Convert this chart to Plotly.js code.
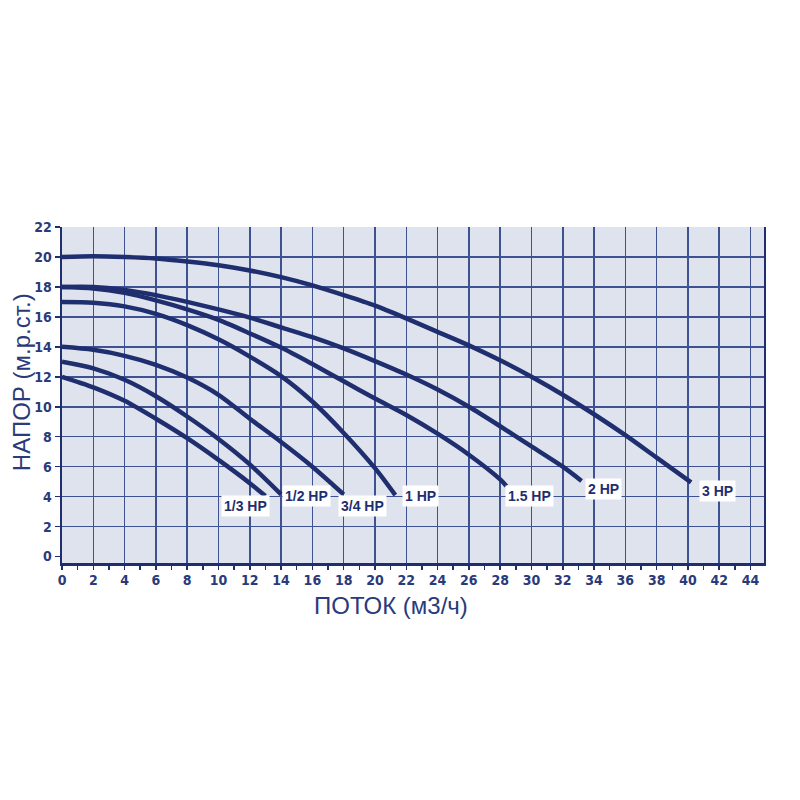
<!DOCTYPE html>
<html>
<head>
<meta charset="utf-8">
<script src="https://cdn.plot.ly/plotly-3.0.1.min.js"></script>
<style>html,body{margin:0;padding:0;background:#fff;}#chart{width:800px;height:800px;}</style>
</head>
<body>
<div id="chart"></div>
<script>
// Flow (м3/ч) and head (м) readings for each pump curve
const q13 = [0, 2, 4, 6, 8, 10, 12, 13];
const h13 = [12, 11.3, 10.4, 9.2, 7.9, 6.45, 4.9, 4.05];

const q12 = [0, 2, 4, 6, 8, 10, 12, 14];
const h12 = [13, 12.56, 11.8, 10.7, 9.35, 7.85, 6.15, 4.15];

const q34 = [0, 2, 4, 6, 8, 10, 12, 14, 16, 18];
const h34 = [14, 13.8, 13.4, 12.8, 11.95, 10.8, 9.2, 7.65, 6.0, 4.15];

const q1 = [0, 2, 4, 6, 8, 10, 12, 14, 16, 18, 20, 21.3];
const h1 = [17, 16.95, 16.7, 16.2, 15.45, 14.5, 13.35, 12.05, 10.35, 8.25, 5.9, 4.1];

const q15 = [0, 2, 4, 6, 8, 10, 12, 14, 16, 18, 20, 22, 24, 26, 28, 28.4];
const h15 = [18, 17.9, 17.6, 17.1, 16.5, 15.8, 14.9, 13.95, 12.85, 11.7, 10.55, 9.45, 8.2, 6.8, 5.15, 4.7];

const q2 = [0, 2, 4, 6, 8, 10, 12, 14, 16, 18, 20, 22, 24, 26, 28, 30, 32, 33.2];
const h2 = [18, 18.0, 17.8, 17.45, 17.0, 16.5, 15.95, 15.3, 14.65, 13.9, 13.05, 12.15, 11.15, 10.0, 8.7, 7.35, 6.0, 5.05];

const q3 = [0, 2, 4, 6, 8, 10, 12, 14, 16, 18, 20, 22, 24, 26, 28, 30, 32, 34, 36, 38, 40.2];
const h3 = [20, 20.05, 20.0, 19.9, 19.7, 19.45, 19.1, 18.65, 18.1, 17.45, 16.75, 15.9, 15.0, 14.1, 13.1, 12.0, 10.8, 9.5, 8.1, 6.6, 4.95];

const seriesNames = ['1/3 HP', '1/2 HP', '3/4 HP', '1 HP', '1.5 HP', '2 HP', '3 HP'];
const seriesQ = [q13, q12, q34, q1, q15, q2, q3];
const seriesH = [h13, h12, h34, h1, h15, h2, h3];

const xTickVals = [0, 2, 4, 6, 8, 10, 12, 14, 16, 18, 20, 22, 24, 26, 28, 30, 32, 34, 36, 38, 40, 42, 44];
const yTickVals = [0, 2, 4, 6, 8, 10, 12, 14, 16, 18, 20, 22];
const yGridVals = [2, 4, 6, 8, 10, 12, 14, 16, 18, 20, 22];

const xTitle = 'ПОТОК (м3/ч)';
const yTitle = 'НАПОР (м.р.ст.)';

// label placement offsets (px) relative to each curve end
const labelDX = [-20, 25, 19, 25, 23, 22, 26];
const labelDY = [10, 2, 12, 1, 10, 8.5, 8.5];

const curveColor = '#1f2e6e';
const gridColor = '#3e5192';
const textColor = '#2a3a7a';
const tickFont = {family: 'DejaVu Sans Condensed, Liberation Sans Narrow, sans-serif', size: 14, color: textColor, weight: 'bold'};

const traces = seriesNames.map((n, i) => ({
  type: 'scatter', mode: 'lines', name: n,
  x: seriesQ[i], y: seriesH[i],
  line: {color: curveColor, width: 4.5, shape: 'spline', smoothing: 0.8},
  hoverinfo: 'x+y+name'
}));
traces.push({type: 'scatter', mode: 'lines', x: [], y: [], yaxis: 'y2', showlegend: false, hoverinfo: 'skip'});

const annotations = seriesNames.map((n, i) => ({
  x: seriesQ[i][seriesQ[i].length - 1],
  y: seriesH[i][seriesH[i].length - 1],
  xref: 'x', yref: 'y',
  xshift: labelDX[i], yshift: -labelDY[i],
  text: n, showarrow: false,
  font: {family: 'Liberation Sans, Arial, sans-serif', size: 14, color: curveColor, weight: 'bold'},
  bgcolor: '#ffffff', borderpad: 2
}));
annotations.push({
  text: xTitle, xref: 'paper', yref: 'paper', x: (391 - 62) / 702, y: -(605 - 562.7) / 335.7,
  showarrow: false, font: {family: 'Liberation Sans, Arial, sans-serif', size: 24, color: textColor},
  xanchor: 'center', yanchor: 'middle'
});
annotations.push({
  text: yTitle, xref: 'paper', yref: 'paper', x: -(62 - 21) / 702, y: (562.7 - 382) / 335.7,
  textangle: -90, showarrow: false, font: {family: 'Liberation Sans, Arial, sans-serif', size: 24, color: textColor},
  xanchor: 'center', yanchor: 'middle'
});

const layout = {
  width: 800, height: 800,
  paper_bgcolor: '#ffffff', plot_bgcolor: '#dfe3ee',
  margin: {l: 62, r: 36, t: 227, b: 237},
  showlegend: false,
  xaxis: {
    range: [0, 44.86], tickvals: xTickVals, ticktext: xTickVals.map(String),
    showgrid: true, gridcolor: gridColor, gridwidth: 1.5, zeroline: false,
    showline: true, linecolor: curveColor, linewidth: 3,
    ticks: 'outside', ticklen: 4, tickwidth: 1.5, tickcolor: curveColor,
    ticklabelstandoff: -2,
    tickfont: tickFont,
    minor: {dtick: 1, tick0: 0, ticks: 'outside', ticklen: 4, tickwidth: 1.5, tickcolor: curveColor, showgrid: false}
  },
  yaxis: {
    range: [-0.43, 22], tickvals: yTickVals, ticktext: yTickVals.map(String),
    showgrid: false, zeroline: false,
    showline: true, linecolor: curveColor, linewidth: 2.5,
    ticks: 'outside', ticklen: 5, tickwidth: 1.5, tickcolor: curveColor,
    tickfont: tickFont
  },
  yaxis2: {
    overlaying: 'y', side: 'right', range: [-0.43, 22], tickvals: yGridVals,
    showgrid: true, gridcolor: gridColor, gridwidth: 1.5, zeroline: false,
    showticklabels: false, ticks: '',
    showline: true, linecolor: curveColor, linewidth: 2
  },
  annotations: annotations
};

Plotly.newPlot('chart', traces, layout, {displayModeBar: false, staticPlot: true});
</script>
</body>
</html>
